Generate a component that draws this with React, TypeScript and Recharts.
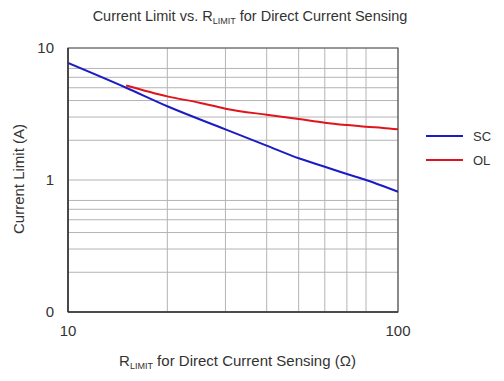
import React from "react";
import { LineChart, Line, XAxis, YAxis, CartesianGrid, ReferenceArea } from "recharts";

// (log-log)
const scR = [10, 15, 20, 30, 40, 50, 60, 70, 80, 90, 100];
const scI = [7.7, 5.0, 3.62, 2.42, 1.82, 1.46, 1.26, 1.11, 1.0, 0.9, 0.815];
const olR = [15, 20, 25, 30, 40, 50, 60, 70, 80, 90, 100];
const olI = [5.2, 4.3, 3.85, 3.47, 3.12, 2.9, 2.72, 2.61, 2.53, 2.48, 2.42];

const xTicks = [10, 20, 30, 40, 50, 60, 70, 80, 90, 100];
const xTickLabels: Record<number, string> = { 10: "10", 100: "100" };
const yTicks = [0.1, 0.2, 0.3, 0.4, 0.5, 0.6, 0.7, 0.8, 0.9, 1, 2, 3, 4, 5, 6, 7, 8, 9, 10];
const yTickLabels: Record<number, string> = { 0.1: "0", 1: "1", 10: "10" };

const seriesNames = ["SC", "OL"];
const seriesColors = ["#1c1cc4", "#e0141c"];

const scData = scR.map((r, i) => ({ r, i: scI[i] }));
const olData = olR.map((r, i) => ({ r, i: olI[i] }));

const font = "'Liberation Sans', Arial, sans-serif";
const textColor = "#333";

function LegendBox() {
  return (
    <svg width={80} height={50} style={{ position: "absolute", left: 426, top: 126 }}>
      {seriesNames.map((n, k) => (
        <g key={n}>
          <line x1={0} x2={37} y1={10 + k * 24} y2={10 + k * 24} stroke={seriesColors[k]} strokeWidth={2} />
          <text x={47} y={10 + k * 24} dy="0.35em" fontSize={13} fontFamily={font} fill={textColor}>
            {n}
          </text>
        </g>
      ))}
    </svg>
  );
}

export default function App() {
  return (
    <div style={{ position: "fixed", left: 0, top: 0, width: 504, height: 381, background: "#fff", fontFamily: font }}>
      <div
        style={{
          position: "absolute",
          top: 8,
          left: 0,
          width: 500,
          textAlign: "center",
          fontSize: 14.5,
          color: textColor,
          whiteSpace: "nowrap",
        }}
      >
        Current Limit vs. R<sub style={{ fontSize: 9, verticalAlign: "-3px" }}>LIMIT</sub> for Direct Current Sensing
      </div>
      <div
        style={{
          position: "absolute",
          top: 352,
          left: 0,
          width: 475,
          textAlign: "center",
          fontSize: 15,
          color: textColor,
          whiteSpace: "nowrap",
        }}
      >
        R<sub style={{ fontSize: 9, verticalAlign: "-3px" }}>LIMIT</sub> for Direct Current Sensing (Ω)
      </div>
      <div
        style={{
          position: "absolute",
          left: 18,
          top: 179,
          transform: "translate(-50%, -50%) rotate(-90deg)",
          fontSize: 15,
          color: textColor,
          whiteSpace: "nowrap",
        }}
      >
        Current Limit (A)
      </div>
      <LineChart width={504} height={381} margin={{ top: 48, right: 106, bottom: 19, left: 38 }}>
        <CartesianGrid stroke="#b4b4b4" strokeWidth={1} />
        <XAxis
          dataKey="r"
          type="number"
          scale="log"
          domain={[10, 100]}
          ticks={xTicks}
          tickFormatter={(v: number) => xTickLabels[v] ?? ""}
          allowDataOverflow
          height={50}
          tickLine={false}
          tickSize={6}
          tickMargin={7}
          axisLine={{ stroke: "#333", strokeWidth: 1.5 }}
          tick={{ fontSize: 15, fill: textColor, fontFamily: font }}
        />
        <YAxis
          dataKey="i"
          type="number"
          scale="log"
          domain={[0.1, 10]}
          ticks={yTicks}
          tickFormatter={(v: number) => yTickLabels[v] ?? ""}
          allowDataOverflow
          width={30}
          tickLine={false}
          tickSize={6}
          tickMargin={8}
          axisLine={{ stroke: "#333", strokeWidth: 1.5 }}
          tick={{ fontSize: 15, fill: textColor, fontFamily: font }}
        />
        <ReferenceArea x1={10} x2={100} y1={0.1} y2={10} fill="none" stroke="#555" strokeWidth={1.2} />
        <Line
          data={scData}
          dataKey="i"
          name={seriesNames[0]}
          type="monotone"
          stroke={seriesColors[0]}
          strokeWidth={2}
          dot={false}
          isAnimationActive={false}
        />
        <Line
          data={olData}
          dataKey="i"
          name={seriesNames[1]}
          type="monotone"
          stroke={seriesColors[1]}
          strokeWidth={2}
          dot={false}
          isAnimationActive={false}
        />
      </LineChart>
      <LegendBox />
    </div>
  );
}
